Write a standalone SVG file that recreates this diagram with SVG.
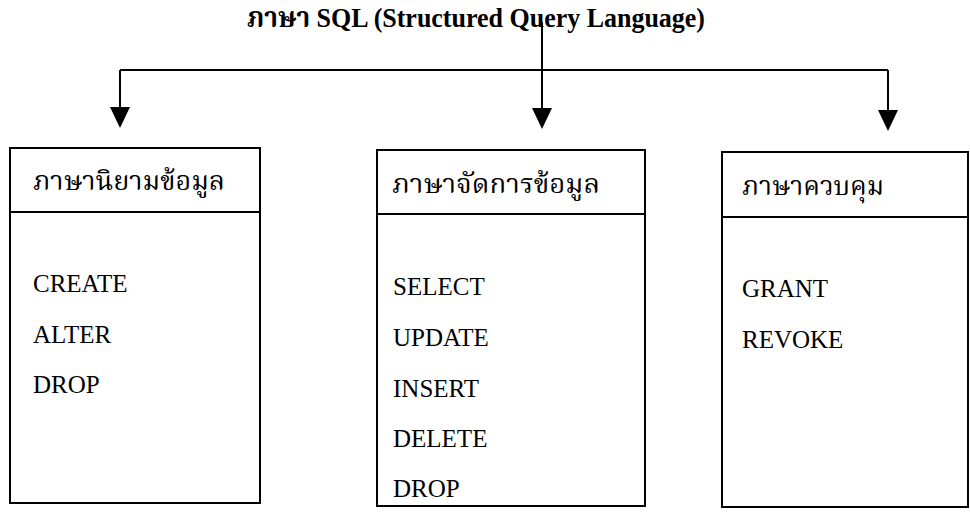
<svg xmlns="http://www.w3.org/2000/svg" width="970" height="516" viewBox="0 0 970 516">
<style>
.box{fill:#fff;stroke:#000;stroke-width:2}
.div{stroke:#000;stroke-width:2}
.th{font-family:"Liberation Serif","Noto Serif Thai","Noto Sans Thai","DejaVu Sans",serif;font-size:26px;fill:#000}
.it{font-family:"Liberation Serif",serif;font-size:25px;fill:#000}
.ttl{font-family:"Liberation Serif","Noto Serif Thai","Noto Sans Thai",serif;font-size:28px;font-weight:bold;fill:#000}
.con{fill:none;stroke:#000;stroke-width:2}
</style>
<defs>
<marker id="ah" viewBox="0 0 21 20" refX="11" refY="10" markerWidth="21" markerHeight="20" markerUnits="userSpaceOnUse" orient="auto">
<path d="M0,0 L21,10 L0,20 z" fill="#000"/>
</marker>
</defs>
<rect width="970" height="516" fill="#fff"/>
<g id="title">
<text class="ttl" x="247" y="27" textLength="458" lengthAdjust="spacingAndGlyphs">ภาษา SQL (Structured Query Language)</text>
</g>
<g id="connectors">
<path class="con" d="M542,22 V118"/>
<path class="con" d="M120,70 H888"/>
<path class="con" d="M120,70 V118" marker-end="url(#ah)"/>
<path class="con" d="M542,70 V119" marker-end="url(#ah)"/>
<path class="con" d="M888,70 V121" marker-end="url(#ah)"/>
</g>
<g id="ddl">
<rect class="box" x="10" y="148" width="250" height="355"/>
<line class="div" x1="10" y1="212" x2="260" y2="212"/>
<text class="th" x="33" y="190" textLength="192" lengthAdjust="spacingAndGlyphs">ภาษานิยามข้อมูล</text>
<text class="it" x="33" y="292">CREATE</text>
<text class="it" x="33" y="343">ALTER</text>
<text class="it" x="33" y="393">DROP</text>
</g>
<g id="dml">
<rect class="box" x="377" y="150" width="268" height="356"/>
<line class="div" x1="377" y1="214" x2="645" y2="214"/>
<text class="th" x="392" y="193" textLength="208" lengthAdjust="spacingAndGlyphs">ภาษาจัดการข้อมูล</text>
<text class="it" x="393" y="295">SELECT</text>
<text class="it" x="393" y="346">UPDATE</text>
<text class="it" x="393" y="397">INSERT</text>
<text class="it" x="393" y="447">DELETE</text>
<text class="it" x="393" y="497">DROP</text>
</g>
<g id="dcl">
<rect class="box" x="722" y="152" width="246" height="355"/>
<line class="div" x1="722" y1="217" x2="968" y2="217"/>
<text class="th" x="742" y="195" textLength="142" lengthAdjust="spacingAndGlyphs">ภาษาควบคุม</text>
<text class="it" x="742" y="297">GRANT</text>
<text class="it" x="742" y="348">REVOKE</text>
</g>
</svg>
